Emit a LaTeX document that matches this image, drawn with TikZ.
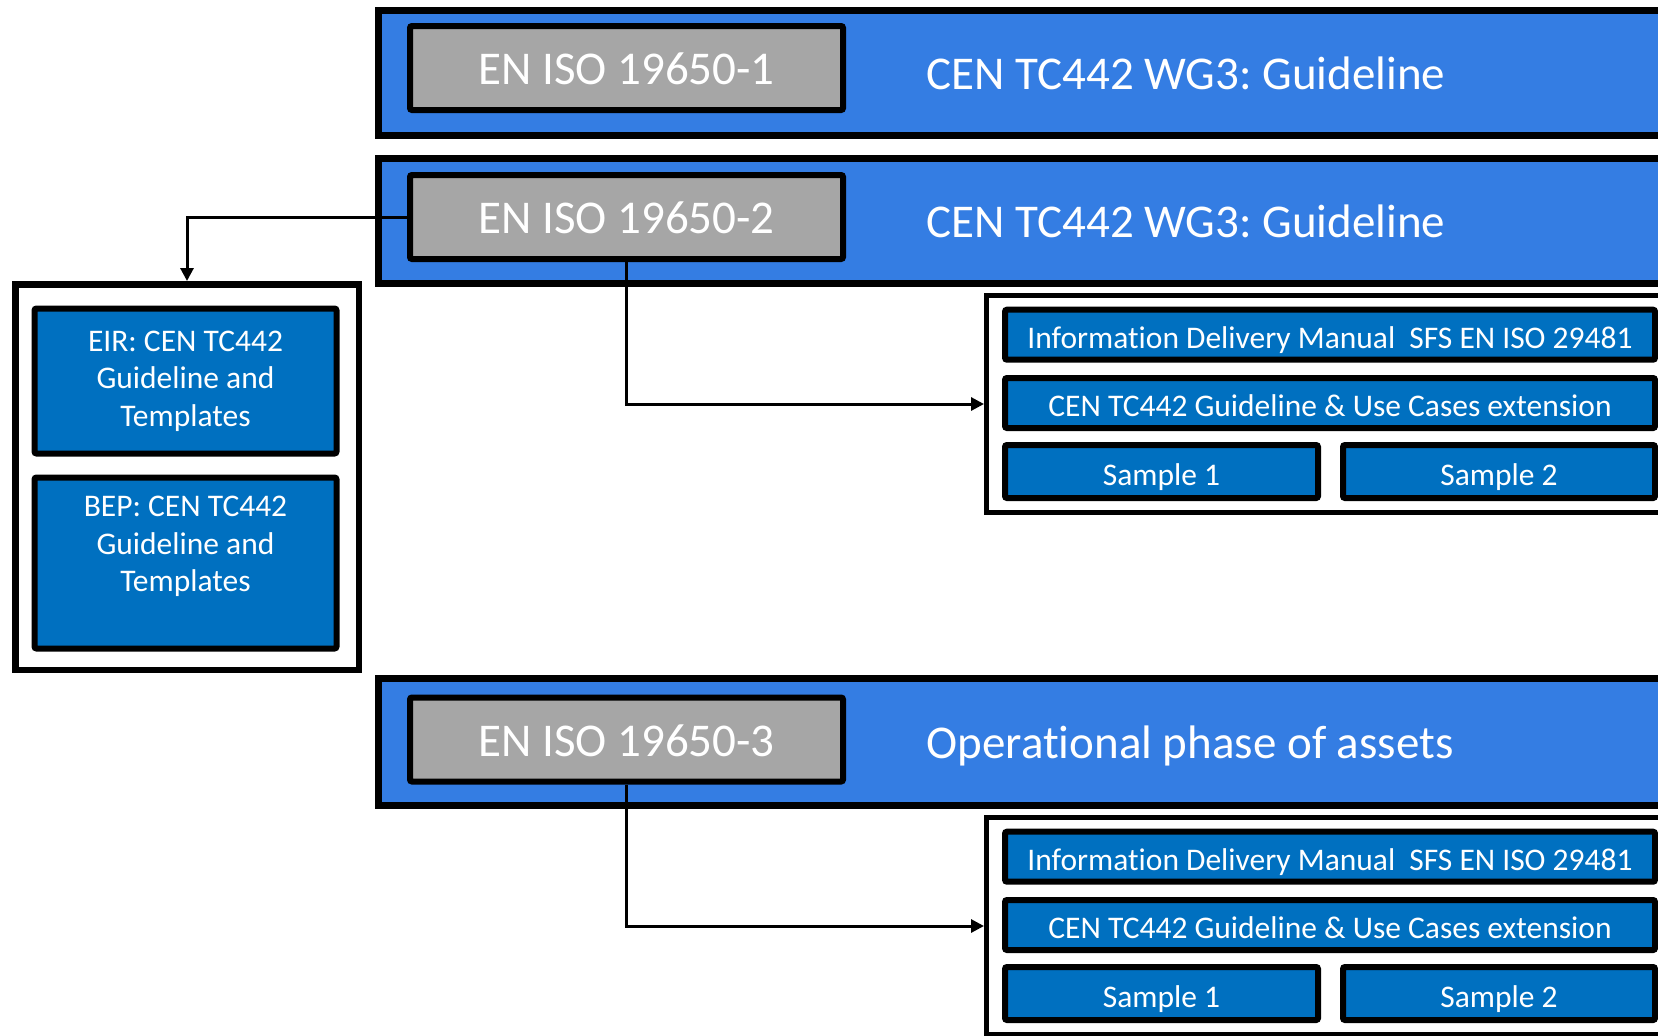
\documentclass[tikz,border=0pt]{standalone}
\usepackage{fontspec}
\setmainfont{Carlito}[Ligatures=NoCommon]
\frenchspacing
\usetikzlibrary{positioning,arrows.meta}
\definecolor{bandblue}{HTML}{347DE3}
\definecolor{boxblue}{HTML}{0070C0}
\definecolor{stdgray}{HTML}{A6A6A6}
\tikzset{
  band/.style={draw=black, fill=bandblue, line width=3.5pt, inner sep=0,
    minimum width=670.75pt, minimum height=62.5pt},
  stdbox/.style={draw=black, fill=stdgray, line width=3pt, inner sep=0, rounded corners=1pt,
    minimum width=216.5pt, minimum height=42pt, text=white,
    font=\fontsize{23.5}{28}\selectfont, text height=16.8pt, text depth=0pt},
  bandtext/.style={text=white, anchor=west, inner sep=0,
    font=\fontsize{23.5}{28}\selectfont, text height=16pt, text depth=0pt},
  holder/.style={draw=black, fill=white, inner sep=0},
  docbox/.style={draw=black, fill=boxblue, line width=3pt, inner sep=0, rounded corners=1pt,
    text=white, align=center, font=\fontsize{15.75}{18.75}\selectfont},
  rowbox/.style={docbox, minimum width=325pt, minimum height=25pt,
    text height=13.8pt, text depth=0pt},
  link/.style={line width=1.5pt, -{Triangle[length=6.5pt,width=6.5pt]}}
}
\begin{document}
\begin{tikzpicture}[x=0.5pt,y=-0.5pt]
  \useasboundingbox (0,0) rectangle (1658,1035);
  \clip (0,0) rectangle (1658,1035);

  % part 1
  \node[band] (band1) at (1049.25,73) {};
  \node[stdbox] (std1) at (626.5,68) {EN ISO 19650-1};
  \node[bandtext] (title1) at (926,73) {CEN TC442 WG3: Guideline};

  % part 2
  \node[band] (band2) at (1049.25,221) {};
  \node[stdbox] (std2) at (626.5,217) {EN ISO 19650-2};
  \node[bandtext] (title2) at (926,221) {CEN TC442 WG3: Guideline};

  \node[holder, line width=3.25pt, minimum width=171.75pt, minimum height=192.75pt] (plans) at (187,477) {};
  \node[docbox, minimum width=151pt, minimum height=72.5pt] (eir) at (185.5,381)
    {EIR: CEN TC442\\Guideline and\\Templates};
  \node[docbox, minimum width=151pt, minimum height=85.5pt] (bep) at (185.5,563)
    {BEP: CEN TC442\\Guideline and\\Templates\\ \mbox{}};

  \node[holder, line width=2.5pt, minimum width=366.75pt, minimum height=108.5pt] (uses1) at (1353.25,404) {};
  \node[rowbox] (idm1) at (1330,334.7) {Information Delivery Manual\ \ SFS EN ISO 29481};
  \node[rowbox] (cen1) at (1330,403) {CEN TC442 Guideline \& Use Cases extension};
  \node[rowbox, minimum width=156.5pt, minimum height=26.5pt] (sampleA1) at (1161.5,471.5) {Sample 1};
  \node[rowbox, minimum width=156pt, minimum height=26.5pt] (sampleA2) at (1499,471.5) {Sample 2};

  % part 3
  \node[band, minimum height=63.5pt] (band3) at (1049.25,742) {};
  \node[stdbox] (std3) at (626.5,739.5) {EN ISO 19650-3};
  \node[bandtext] (title3) at (926,742) {Operational phase of assets};

  \node[holder, line width=2.5pt, minimum width=366.75pt, minimum height=108.5pt] (uses2) at (1353.25,926) {};
  \node[rowbox] (idm2) at (1330,856.7) {Information Delivery Manual\ \ SFS EN ISO 29481};
  \node[rowbox] (cen2) at (1330,925) {CEN TC442 Guideline \& Use Cases extension};
  \node[rowbox, minimum width=156.5pt, minimum height=26.5pt] (sampleB1) at (1161.5,993.5) {Sample 1};
  \node[rowbox, minimum width=156pt, minimum height=26.5pt] (sampleB2) at (1499,993.5) {Sample 2};

  % connectors
  \draw[link] (std2.west) -| (plans.north);
  \draw[link] (std2.south) |- (uses1.west);
  \draw[link] (std3.south) |- (uses2.west);
\end{tikzpicture}
\end{document}
